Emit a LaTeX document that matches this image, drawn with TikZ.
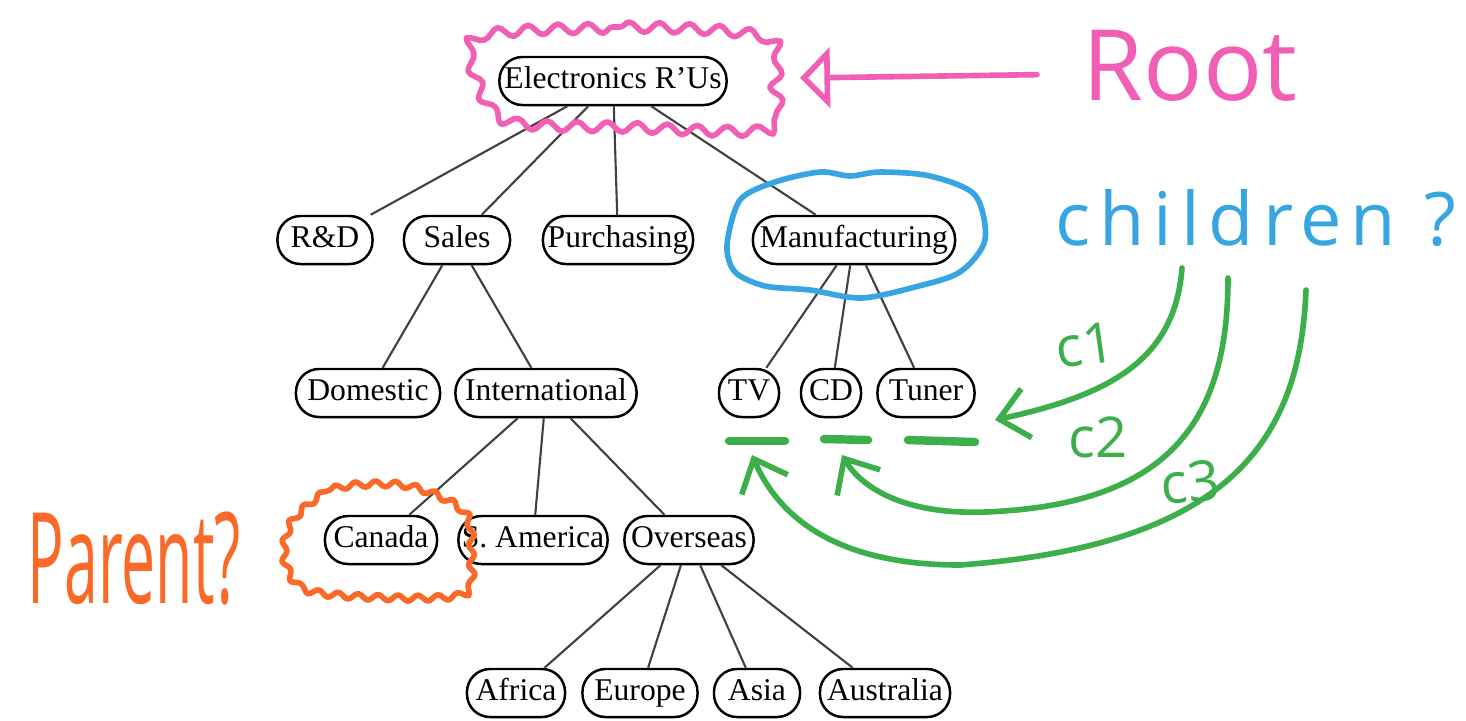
\documentclass[tikz,border=0pt]{standalone}
\usepackage{fontspec,graphicx}
\setmainfont{Liberation Serif}
\newfontfamily\handfont{Open Sans}
\usetikzlibrary{arrows.meta,decorations.pathmorphing}
\definecolor{penpink}{RGB}{240,95,180}
\definecolor{penblue}{RGB}{55,165,225}
\definecolor{pengreen}{RGB}{60,175,75}
\definecolor{penorange}{RGB}{250,105,40}
\tikzset{>=stealth}
\tikzset{
  dept/.style={draw, line width=0.7pt, rounded corners=0.23cm, minimum height=0.48cm,
    minimum width=#1, inner sep=0pt, text height=6.4pt, text depth=1.9pt,
    font=\fontsize{9}{11}\selectfont},
  link/.style={draw=black!75, line width=0.6pt},
  pen/.style={line width=1.6pt, line cap=round, line join=round},
  wavy/.style={decorate, decoration={snake, amplitude=#1, segment length=0.3cm}},
  barb/.style={-{Straight Barb[length=0.28cm, width=0.5cm]}},
}

\begin{document}
\begin{tikzpicture}[x=0.01cm, y=-0.01cm]
\useasboundingbox (0,0) rectangle (1466,720);
% the company tree
\node[dept=2.27cm] (root) at (613,81) {Electronics R'Us};
\node[dept=0.95cm] (rd) at (325,240) {R\&D};
\node[dept=1.06cm] (sales) at (457,240) {Sales};
\node[dept=1.50cm] (purch) at (618,240) {Purchasing};
\node[dept=2.02cm] (manuf) at (854,240) {Manufacturing};
\node[dept=1.44cm] (dom) at (368,393) {Domestic};
\node[dept=1.81cm] (intl) at (546,393) {International};
\node[dept=0.60cm] (tv) at (749,393) {TV};
\node[dept=0.60cm] (cd) at (831,393) {CD};
\node[dept=0.97cm] (tuner) at (926,393) {Tuner};
\node[dept=1.12cm] (canada) at (381,540) {Canada};
\node[dept=1.49cm] (samer) at (533,540) {S. America};
\node[dept=1.29cm] (overseas) at (689,540) {Overseas};
\node[dept=0.98cm] (africa) at (516,693) {Africa};
\node[dept=1.15cm] (europe) at (640,693) {Europe};
\node[dept=0.86cm] (asia) at (757,693) {Asia};
\node[dept=1.30cm] (austr) at (885,693) {Australia};

\foreach \a/\b in {root/rd, root/sales, root/purch, root/manuf,
  sales/dom, sales/intl, manuf/tv, manuf/cd, manuf/tuner,
  intl/canada, intl/samer, intl/overseas,
  overseas/africa, overseas/europe, overseas/asia, overseas/austr}
  \draw[link] (\a) -- (\b);

% pen notes
\draw[pen, penpink, wavy=0.05cm] plot[smooth cycle] coordinates
  {(472,35) (620,27) (760,38) (768,90) (762,130) (620,128) (500,122) (468,80)};
\node[penpink, anchor=base west, inner sep=0pt, font=\handfont\fontsize{28}{30}\selectfont]
  (rootlbl) at (1082,100) {Root};
\coordinate (rootptr) at (800,78);
\draw[pen, penpink, -{Triangle[open, length=0.3cm, width=0.6cm]}, shorten <=0.45cm]
  (rootlbl.west |- 0,74) -- (rootptr);

\draw[pen, penblue] plot[smooth cycle] coordinates
  {(727,245) (740,200) (775,182) (820,172) (850,176) (880,172) (930,176) (975,195)
   (985,240) (960,272) (915,287) (861,298) (810,290) (765,286) (735,272)};
\node[penblue, anchor=base west, inner sep=0pt,
  font=\handfont\fontsize{21}{23}\selectfont\addfontfeature{LetterSpace=12}]
  (kidslbl) at (1055,245) {children ?};

\draw[pen, penorange, decorate, decoration={snake, amplitude=0.03cm, segment length=0.2cm}]
  plot[smooth cycle] coordinates
  {(288,522) (330,490) (395,486) (440,500) (464,520) (467,560) (460,596) (380,600)
   (300,592) (279,560)};
\node[penorange, anchor=base west, inner sep=0pt, font=\handfont\fontsize{36}{38}\selectfont]
  (parentlbl) at (27,603) {\scalebox{0.48}[1]{Parent?}};

% children arrows
\draw[pen, pengreen, line width=2.4pt] (729,441) -- (785,441);
\draw[pen, pengreen, line width=2.4pt] (824,439) -- (868,440);
\draw[pen, pengreen, line width=2.4pt] (908,440) -- (975,442);
\coordinate (c1s) at (1182,268);
\coordinate (c1e) at (995,420);
\coordinate (c2s) at (1228,278);
\coordinate (c2e) at (842,455);
\coordinate (c3s) at (1306,290);
\coordinate (c3e) at (752,455);
\draw[pen, pengreen, barb] (c1s) .. controls (1175,360) and (1110,395) .. (c1e);
\draw[pen, pengreen, barb] (c2s) .. controls (1228,420) and (1170,505) .. (985,512)
  .. controls (900,515) and (860,485) .. (c2e);
\draw[pen, pengreen, barb] (c3s) .. controls (1300,440) and (1230,545) .. (960,565)
  .. controls (840,565) and (780,520) .. (c3e);
\node[pengreen, font=\handfont\fontsize{16}{16}\selectfont, rotate=8, inner sep=0pt] (c1lbl) at (1085,345) {c1};
\node[pengreen, font=\handfont\fontsize{16}{16}\selectfont, inner sep=0pt] (c2lbl) at (1098,437) {c2};
\node[pengreen, font=\handfont\fontsize{16}{16}\selectfont, rotate=5, inner sep=0pt] (c3lbl) at (1190,482) {c3};
\end{tikzpicture}
\end{document}
